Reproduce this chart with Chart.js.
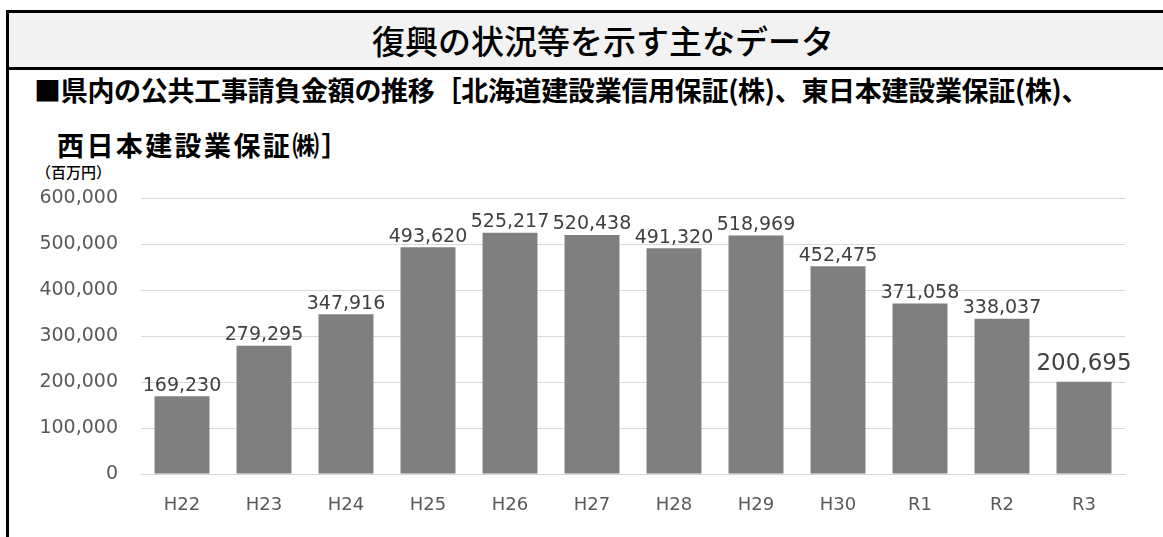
<!DOCTYPE html>
<html>
<head>
<meta charset="utf-8">
<script src="https://cdn.jsdelivr.net/npm/chart.js@4"></script>
<style>
  body { margin: 0; width: 1163px; height: 537px; background: #fff; overflow: hidden; position: relative;
         font-family: "Noto Sans CJK JP", sans-serif; }
  #frameLeft { position: absolute; left: 6px; top: 10px; width: 3px; height: 527px; background: #000; }
  #header { position: absolute; left: 6px; top: 10px; width: 1157px; height: 54px; background: #f2f2f2;
            border-top: 3px solid #000; border-bottom: 3px solid #000; }
  #title { position: absolute; left: 372px; top: 16px; font-size: 33px; line-height: 48px; color: #000;
           font-weight: 500; white-space: nowrap; }
  .sub { position: absolute; font-size: 27px; font-weight: 700; color: #000; white-space: nowrap; line-height: 32px; }
  #unit { position: absolute; left: 36px; top: 162px; font-size: 15px; font-weight: 500; color: #000; line-height: 20px; }
  #wrap { position: absolute; left: 0; top: 164px; width: 1163px; height: 373px; }
</style>
</head>
<body>
<div id="header"></div>
<div id="frameLeft"></div>
<div id="title">復興の状況等を示す主なデータ</div>
<div class="sub" style="left:34px; top:74px; letter-spacing:-0.3px;">■県内の公共工事請負金額の推移［北海道建設業信用保証(株)、東日本建設業保証(株)、</div>
<div class="sub" style="left:57px; top:129px; letter-spacing:2.4px;">西日本建設業保証㈱］</div>
<div id="unit">（百万円）</div>
<div id="wrap"><canvas id="grafico"></canvas></div>
<script>
const years = ["H22", "H23", "H24", "H25", "H26", "H27", "H28", "H29", "H30", "R1", "R2", "R3"];
const montos = [169230, 279295, 347916, 493620, 525217, 520438, 491320, 518969, 452475, 371058, 338037, 200695];
const yTicks = [0, 100000, 200000, 300000, 400000, 500000, 600000];

const fmt = v => v.toLocaleString("en-US");
const fuente = "'DejaVu Sans', 'Noto Sans', sans-serif";

// etiquetas encima de cada barra
const etiquetas = {
  id: "etiquetas",
  afterDatasetsDraw(chart) {
    const ctx = chart.ctx;
    const meta = chart.getDatasetMeta(0);
    ctx.save();
    ctx.textAlign = "center";
    ctx.textBaseline = "bottom";
    meta.data.forEach((bar, i) => {
      const ultimo = i === montos.length - 1;
      ctx.font = (ultimo ? "23px " : "19px ") + fuente;
      ctx.fillStyle = "#404040";
      ctx.fillText(fmt(montos[i]), bar.x, bar.y - (ultimo ? 6 : 1));
    });
    ctx.restore();
  }
};

new Chart(document.getElementById("grafico"), {
  type: "bar",
  data: {
    labels: years,
    datasets: [{
      data: montos,
      backgroundColor: "#7f7f7f",
      barPercentage: 0.67,
      categoryPercentage: 1.0
    }]
  },
  options: {
    responsive: true,
    maintainAspectRatio: false,
    animation: false,
    layout: { padding: { top: 1, right: 38, left: 0, bottom: 0 } },
    plugins: { legend: { display: false }, tooltip: { enabled: false } },
    scales: {
      x: {
        grid: { display: false, drawTicks: false },
        border: { display: true, color: "#d9d9d9", width: 1 },
        ticks: { color: "#595959", font: { family: fuente, size: 18 }, padding: 21 },
        afterFit(scale) { scale.height = 63; }
      },
      y: {
        min: 0,
        max: 600000,
        afterBuildTicks(scale) { scale.ticks = yTicks.map(v => ({ value: v })); },
        grid: { color: "#d9d9d9", drawTicks: false },
        border: { display: false },
        ticks: {
          color: "#595959",
          font: { family: fuente, size: 19 },
          padding: 23,
          callback: v => fmt(v)
        },
        afterFit(scale) { scale.width = 141; }
      }
    }
  },
  plugins: [etiquetas]
});
</script>
</body>
</html>
